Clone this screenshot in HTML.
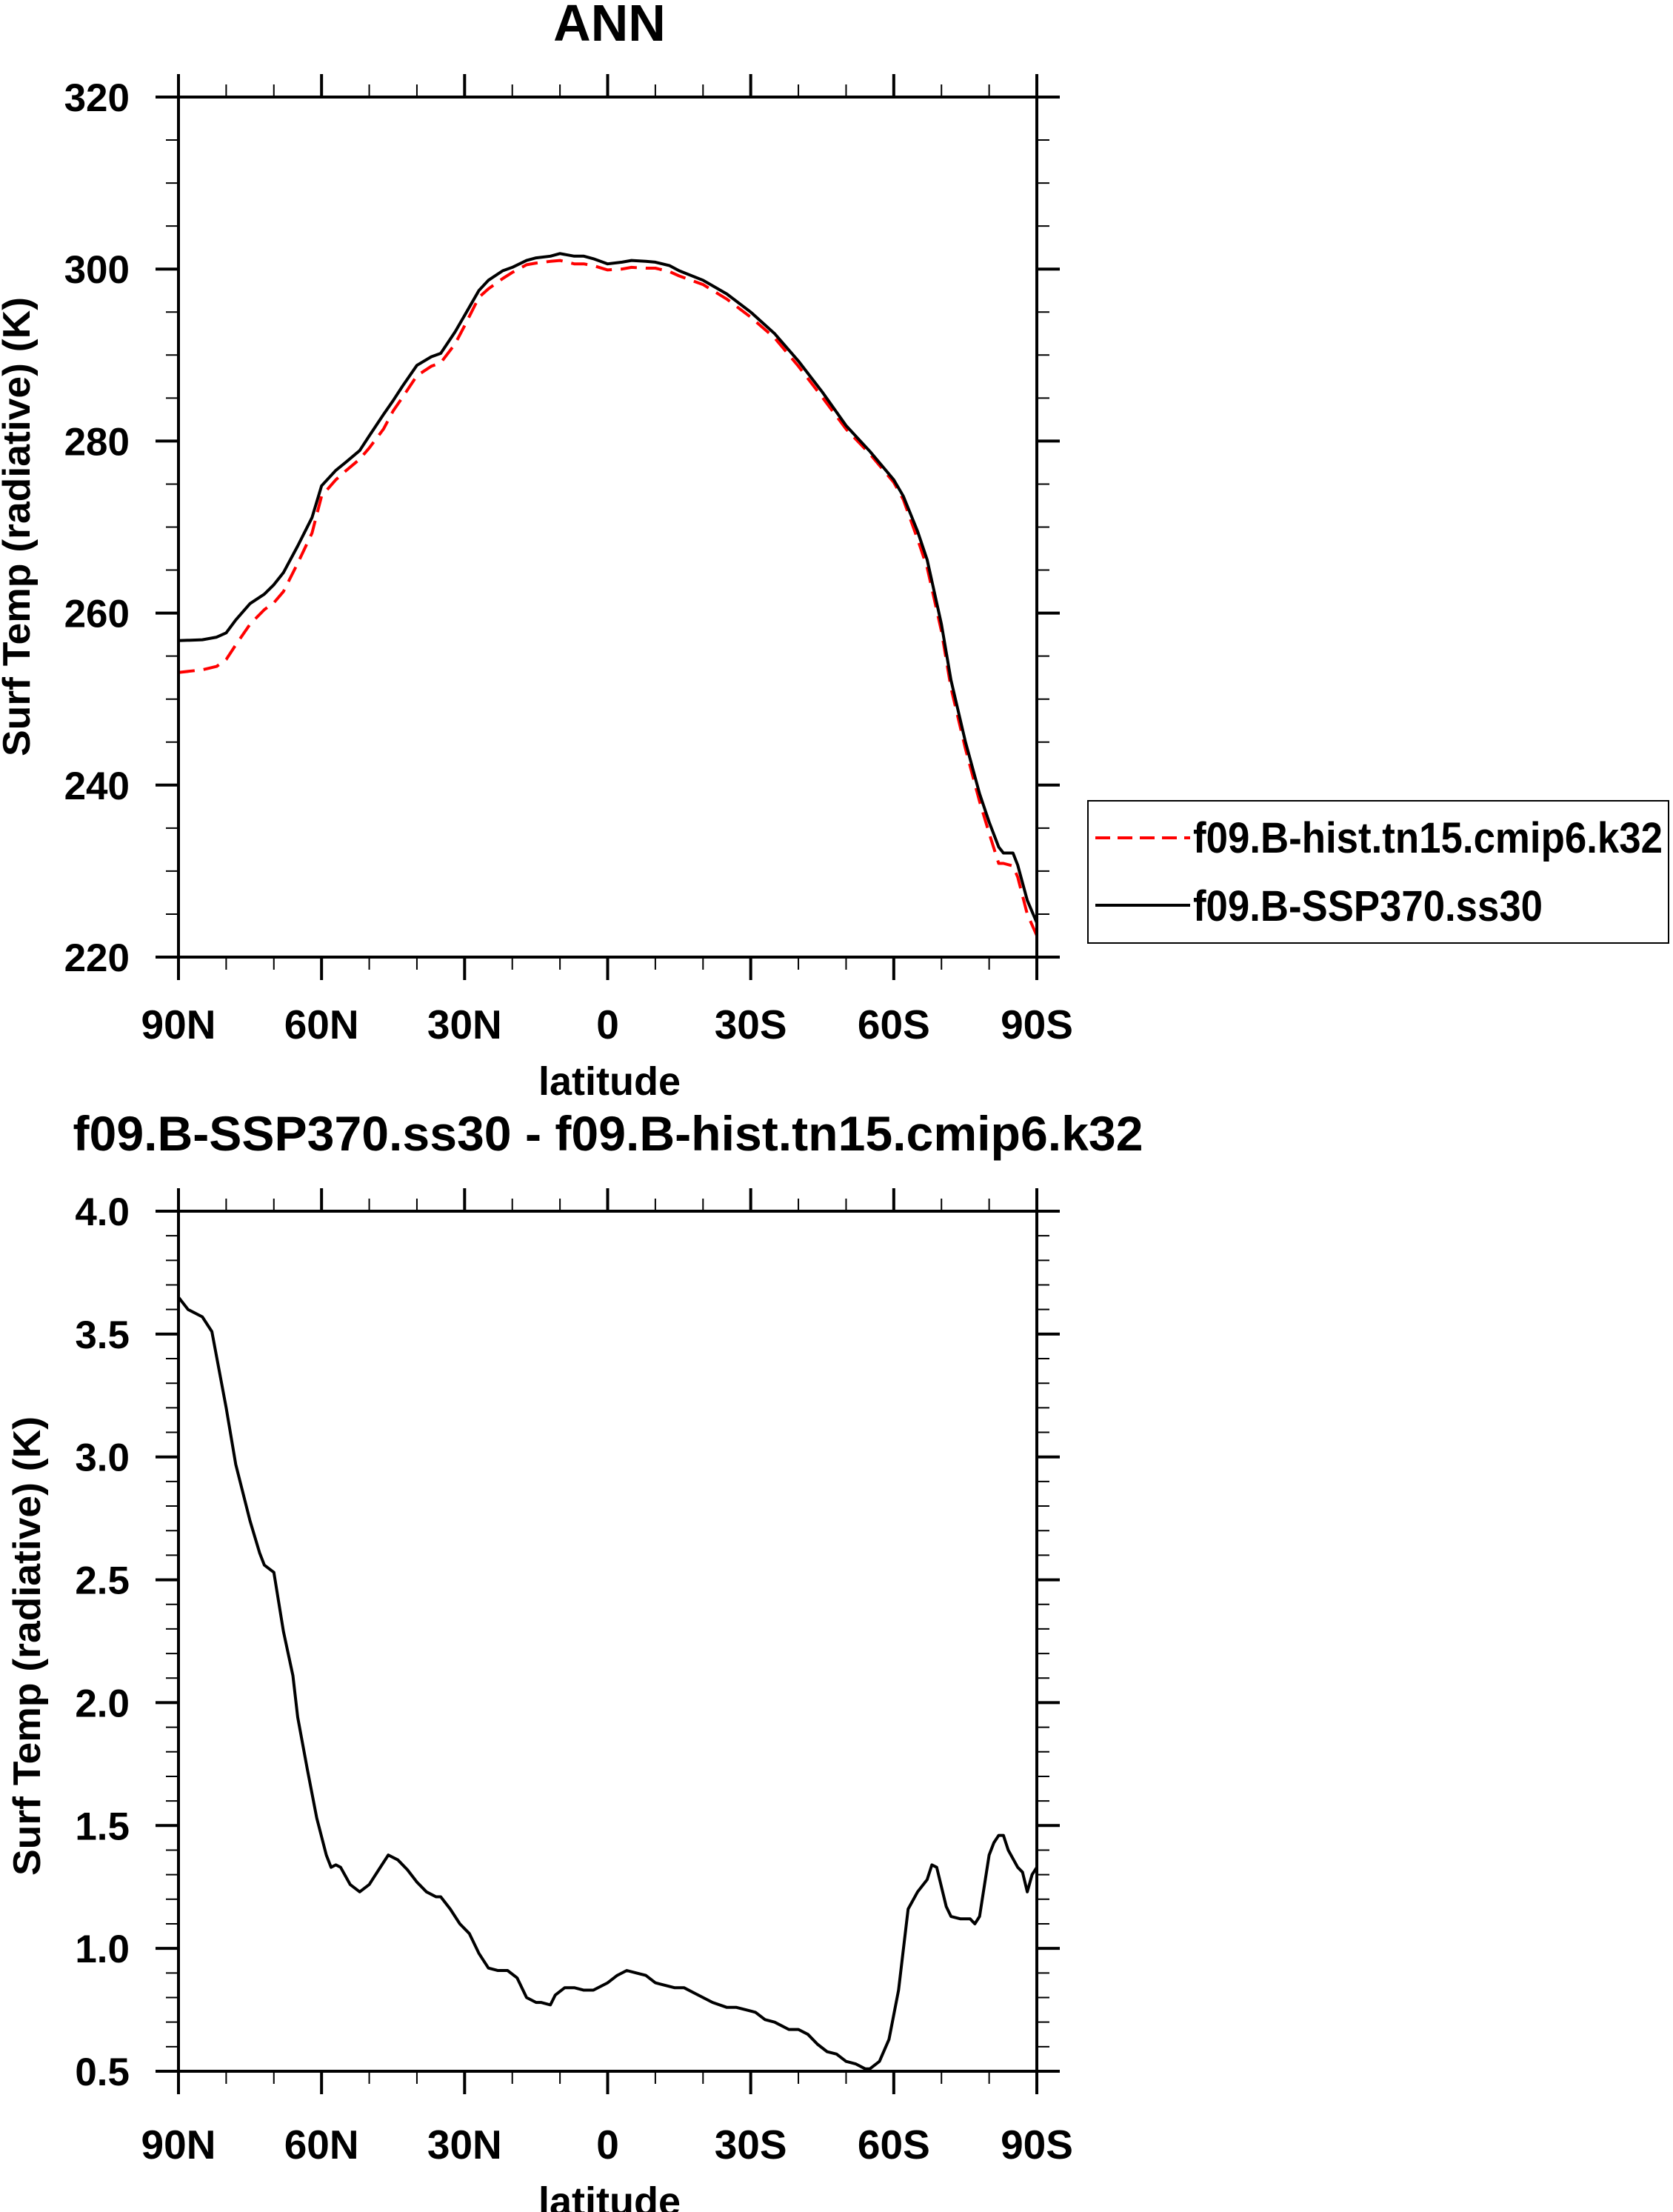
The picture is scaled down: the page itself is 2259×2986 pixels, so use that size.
<!DOCTYPE html>
<html><head><meta charset="utf-8"><style>
html,body{margin:0;padding:0;background:#fff;}
svg{display:block;font-family:"Liberation Sans",Arial,sans-serif;font-weight:bold;}
</style></head><body>
<svg id="c" width="2259" height="2986" viewBox="0 0 2259 2986" xmlns="http://www.w3.org/2000/svg">
<text x="823" y="55" font-size="70" text-anchor="middle">ANN</text>
<text x="821" y="1553" font-size="66" text-anchor="middle" textLength="1445" lengthAdjust="spacingAndGlyphs">f09.B-SSP370.ss30 - f09.B-hist.tn15.cmip6.k32</text>
<g id="top"></g>
<g id="bot"></g>
<g>
<rect x="1469" y="1081" width="784" height="192" fill="none" stroke="#000" stroke-width="2"/>
<line x1="1479" y1="1131" x2="1607" y2="1131" stroke="#f00" stroke-width="4" stroke-dasharray="20,10"/>
<text x="1611" y="1151" font-size="58" textLength="634" lengthAdjust="spacingAndGlyphs">f09.B-hist.tn15.cmip6.k32</text>
<line x1="1479" y1="1222" x2="1607" y2="1222" stroke="#000" stroke-width="4"/>
<text x="1611" y="1243" font-size="58" textLength="472" lengthAdjust="spacingAndGlyphs">f09.B-SSP370.ss30</text>
</g>
</svg>
<script>
const latTop=[90,85,82,80,78,75,72,70,68,65,62,60,57,55,52,50,47,45,43,40,37,35,32,30,27,25,22,20,17,15,12,10,7,5,3,0,-3,-5,-8,-10,-13,-15,-20,-25,-30,-35,-40,-45,-50,-55,-60,-62,-65,-67,-70,-72,-75,-78,-80,-82,-83,-85,-86,-88,-90];
const sspTop=[256.8,256.9,257.2,257.7,259.2,261.1,262.2,263.3,264.7,267.8,271.1,274.8,276.6,277.5,278.9,280.6,283.1,284.7,286.4,288.8,289.8,290.2,292.7,294.6,297.5,298.7,299.8,300.2,301.0,301.3,301.5,301.8,301.5,301.5,301.2,300.6,300.8,301.0,300.9,300.8,300.4,299.8,298.7,297.1,295.0,292.5,289.3,285.7,281.8,278.8,275.5,273.6,269.5,266.2,258.7,252.2,245.1,239.0,235.7,232.8,232.1,232.1,230.7,226.6,224.0];
const histTop=[253.1,253.4,253.8,254.6,256.3,258.7,260.4,261.2,262.5,265.8,269.3,273.6,275.5,276.5,277.9,279.2,281.4,283.5,285.1,287.6,288.7,289.1,291.3,293.4,296.7,297.7,298.9,299.6,300.5,300.7,300.9,301.0,300.6,300.6,300.4,299.9,300.0,300.2,300.1,300.1,299.7,299.2,298.2,296.5,294.4,292.0,288.7,285.1,281.4,278.5,275.2,273.2,268.6,265.3,257.9,251.3,244.3,238.1,234.4,230.9,230.9,230.6,229.3,225.0,222.5];
const latDiff=[90,88,85,83,80,78,75,73,72,70,68,66,65,63,61,59,58,57,56,54,52,50,48,46,44,42,40,38,36,35,33,31,29,27,25,23,21,19,17,15,14,12,11,9,7,5,3,1,0,-2,-4,-6,-8,-10,-12,-14,-16,-18,-20,-22,-25,-27,-29,-31,-33,-35,-38,-40,-42,-44,-46,-48,-50,-52,-54,-55,-57,-59,-61,-63,-65,-67,-68,-69,-71,-72,-74,-76,-77,-78,-80,-81,-82,-83,-84,-86,-87,-88,-89,-90];
const diffVals=[3.65,3.60,3.57,3.51,3.20,2.97,2.74,2.61,2.56,2.53,2.29,2.11,1.94,1.73,1.53,1.38,1.33,1.34,1.33,1.26,1.23,1.26,1.32,1.38,1.36,1.32,1.27,1.23,1.21,1.21,1.16,1.10,1.06,0.98,0.92,0.91,0.91,0.88,0.80,0.78,0.78,0.77,0.81,0.84,0.84,0.83,0.83,0.85,0.86,0.89,0.91,0.90,0.89,0.86,0.85,0.84,0.84,0.82,0.80,0.78,0.76,0.76,0.75,0.74,0.71,0.70,0.67,0.67,0.65,0.61,0.58,0.57,0.54,0.53,0.51,0.51,0.54,0.63,0.83,1.16,1.23,1.28,1.34,1.33,1.17,1.13,1.12,1.12,1.10,1.13,1.38,1.43,1.46,1.46,1.40,1.33,1.31,1.23,1.30,1.33];
const xTickLats=[90,60,30,0,-30,-60,-90];
const xTickLabels=["90N","60N","30N","0","30S","60S","90S"];
const topYTicks=[220,240,260,280,300,320];
const botYTicks=[0.5,1.0,1.5,2.0,2.5,3.0,3.5,4.0];
const NS="http://www.w3.org/2000/svg";
const L=241,R=1400;
function xs(lat){return L+(90-lat)/180*(R-L);}
function mk(p,tag,at){const e=document.createElementNS(NS,tag);for(const k in at)e.setAttribute(k,at[k]);p.appendChild(e);return e;}
function panel(g,T,B,ymin,ymax,yticks,ymin_step,fmt,series,ylabelX,ylabelY,xlabBase,latBase){
  const ys=v=>B-(v-ymin)/(ymax-ymin)*(B-T);
  for(let lat=90;lat>=-90;lat-=10){const x=xs(lat);const maj=lat%30===0;const len=maj?31:17;
    let t=mk(g,'line',{x1:x,y1:B,x2:x,y2:B+len,stroke:'#000','stroke-width':maj?4:2});
    
    t=mk(g,'line',{x1:x,y1:T,x2:x,y2:T-len,stroke:'#000','stroke-width':maj?4:2});
    }
  const n=Math.round((ymax-ymin)/ymin_step);
  for(let i=0;i<=n;i++){const v=ymin+i*ymin_step;const y=ys(v);const maj=yticks.some(t=>Math.abs(t-v)<1e-6);const len=maj?31:17;
    let t=mk(g,'line',{x1:L,y1:y,x2:L-len,y2:y,stroke:'#000','stroke-width':maj?4:2});
    
    t=mk(g,'line',{x1:R,y1:y,x2:R+len,y2:y,stroke:'#000','stroke-width':maj?4:2});
    }
  yticks.forEach(v=>{const t=mk(g,'text',{x:175,y:ys(v)+19,'font-size':53,'text-anchor':'end'});t.textContent=fmt(v);
    });
  xTickLats.forEach((lat,i)=>{const t=mk(g,'text',{x:xs(lat),y:xlabBase,'font-size':55,'text-anchor':'middle'});t.textContent=xTickLabels[i];
    });
  let t=mk(g,'text',{x:823,y:latBase,'font-size':54,'text-anchor':'middle'});t.textContent='latitude';
  
  t=mk(g,'text',{x:0,y:0,'font-size':52,'text-anchor':'middle',transform:`translate(${ylabelX},${ylabelY}) rotate(-90)`,textLength:620,lengthAdjust:'spacingAndGlyphs'});
  t.textContent='Surf Temp (radiative) (K)';
  
  series.forEach(s=>{const d=s.lat.map((la,i)=>(i?'L':'M')+xs(la).toFixed(1)+','+ys(s.v[i]).toFixed(1)).join('');
    const p=mk(g,'path',{d:d,fill:'none',stroke:s.c,'stroke-width':4,'stroke-linejoin':'round'});
    if(s.dash)p.setAttribute('stroke-dasharray',s.dash);
    });
  const f=mk(g,'rect',{x:L,y:T,width:R-L,height:B-T,fill:'none',stroke:'#000','stroke-width':4});
  
}
panel(document.getElementById('top'),131,1292,220,320,topYTicks,5,v=>String(v),
  [{lat:latTop,v:histTop,c:'#f00',dash:'22,12',name:'hist-line'},{lat:latTop,v:sspTop,c:'#000',name:'ssp370-line'}],
  40,711,1402,1478);
panel(document.getElementById('bot'),1635,2796,0.5,4.0,botYTicks,0.1,v=>v.toFixed(1),
  [{lat:latDiff,v:diffVals,c:'#000',name:'difference-line'}],
  54,2222,2914,2990);
</script>
</body></html>
